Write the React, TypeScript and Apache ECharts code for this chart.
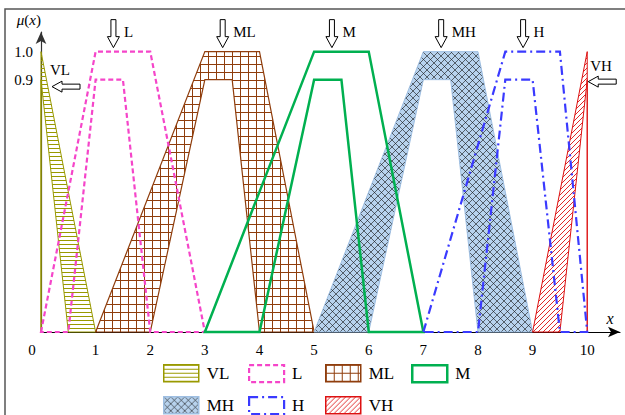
import React, { useEffect, useRef } from "react";
import * as echarts from "echarts";

// ---- data ----
const setNames = ["VL", "L", "ML", "M", "MH", "H", "VH"];
// upper membership function (trapezoid a,b,c,d, peak 1.0)
const umfA = [0, 0, 1, 3, 5, 7, 9];
const umfB = [0, 1, 3, 5, 7, 8.5, 10];
const umfC = [0, 2, 4, 6, 8, 9.5, 10];
const umfD = [1, 3, 5, 7, 9, 10, 10];
// lower membership function (trapezoid e,f,g,h, peak 0.9)
const lmfE = [0, 0.5, 2, 4, 6, 8, 9.5];
const lmfF = [0, 1, 3, 5, 7, 8.5, 10];
const lmfG = [0, 1.5, 3.5, 5.5, 7.5, 9, 10];
const lmfH = [0.5, 2, 4, 6, 8, 9.5, 10];
const umfPeak = 1.0;
const lmfPeak = 0.9;
const xTickValues = [0, 1, 2, 3, 4, 5, 6, 7, 8, 9, 10];
const yTickValues = [0.9, 1.0];

const FONT = "Liberation Serif";

function tile(w: number, h: number, bg: string | null, draw: (c: CanvasRenderingContext2D) => void) {
  const cv = document.createElement("canvas");
  cv.width = w;
  cv.height = h;
  const ctx = cv.getContext("2d")!;
  if (bg) {
    ctx.fillStyle = bg;
    ctx.fillRect(0, 0, w, h);
  }
  draw(ctx);
  return { image: cv.toDataURL(), repeat: "repeat", imageWidth: w, imageHeight: h };
}

export default function App() {
  const ref = useRef<HTMLDivElement>(null);
  useEffect(() => {
    if (!ref.current) return;
    const chart = echarts.init(ref.current, null, { renderer: "svg" });

    const hLines = tile(4, 4, null, (c) => {
      c.strokeStyle = "#999900";
      c.lineWidth = 1;
      c.beginPath();
      c.moveTo(0, 0.5);
      c.lineTo(4, 0.5);
      c.stroke();
    });
    const grid = tile(8, 8, null, (c) => {
      c.strokeStyle = "#8f3d0c";
      c.lineWidth = 1;
      c.beginPath();
      c.moveTo(0, 0.5);
      c.lineTo(8, 0.5);
      c.moveTo(0.5, 0);
      c.lineTo(0.5, 8);
      c.stroke();
    });
    const cross = tile(7, 7, "#b8d3ee", (c) => {
      c.strokeStyle = "#111";
      c.lineWidth = 0.6;
      c.beginPath();
      c.moveTo(0, 0);
      c.lineTo(7, 7);
      c.moveTo(7, 0);
      c.lineTo(0, 7);
      c.stroke();
    });
    const diag = tile(5, 5, null, (c) => {
      c.strokeStyle = "#dd1111";
      c.lineWidth = 0.9;
      c.beginPath();
      c.moveTo(-1, 6);
      c.lineTo(6, -1);
      c.moveTo(-1, 1);
      c.lineTo(1, -1);
      c.moveTo(4, 6);
      c.lineTo(6, 4);
      c.stroke();
    });

    const styles: Record<string, any> = {
      VL: { fill: hLines, stroke: "#999900", lineWidth: 1, lineDash: null, z: 2 },
      L: { fill: "none", stroke: "#f545c9", lineWidth: 2.2, lineDash: [5, 3], z: 3 },
      ML: { fill: grid, stroke: "#8f3d0c", lineWidth: 1.2, lineDash: null, z: 2 },
      M: { fill: "none", stroke: "#00b050", lineWidth: 2.5, lineDash: null, z: 3 },
      MH: { fill: cross, stroke: "#9fbfe2", lineWidth: 1, lineDash: null, z: 2 },
      H: { fill: "none", stroke: "#3a3aff", lineWidth: 2.2, lineDash: [9, 4, 2, 4], z: 3 },
      VH: { fill: diag, stroke: "#dd1111", lineWidth: 1, lineDash: null, z: 2 },
    };

    const arch = (i: number) => [
      [umfA[i], 0],
      [umfB[i], umfPeak],
      [umfC[i], umfPeak],
      [umfD[i], 0],
      [lmfH[i], 0],
      [lmfG[i], lmfPeak],
      [lmfF[i], lmfPeak],
      [lmfE[i], 0],
    ];

    const setSeries = setNames.map((name, i) => {
      const s = styles[name];
      return {
        type: "custom",
        name,
        coordinateSystem: "cartesian2d",
        silent: true,
        clip: false,
        z: s.z,
        itemStyle: {
          color: s.fill === "none" ? "rgba(0,0,0,0)" : s.fill,
          borderColor: s.stroke,
          borderWidth: s.lineWidth,
          borderType: s.lineDash || "solid",
        },
        data: [[(umfB[i] + umfC[i]) / 2, umfPeak]],
        renderItem: (_p: any, api: any) => {
          const pts = arch(i).map((p) => api.coord(p));
          return {
            type: "polygon",
            shape: { points: pts },
            style: {
              fill: s.fill,
              stroke: s.stroke,
              lineWidth: s.lineWidth,
              lineDash: s.lineDash || undefined,
            },
          };
        },
      };
    });

    // annotation arrows with labels
    const annotSeries = {
      type: "custom",
      coordinateSystem: "cartesian2d",
      silent: true,
      clip: false,
      z: 5,
      data: setNames.map((_, i) => [(umfB[i] + umfC[i]) / 2, umfPeak]),
      renderItem: (params: any, api: any) => {
        const i = params.dataIndex;
        const p = api.coord([api.value(0), api.value(1)]);
        const name = setNames[i];
        const leftShoulder = umfA[i] === umfB[i];
        const rightShoulder = umfC[i] === umfD[i];
        let pts: number[][];
        let tx: number, ty: number, lx: number, ly: number;
        if (leftShoulder || rightShoulder) {
          tx = p[0] + (leftShoulder ? 11 : 1);
          ty = p[1] + (leftShoulder ? 35 : 30);
          pts = [
            [tx, ty],
            [tx + 10, ty - 5.5],
            [tx + 10, ty - 2.5],
            [tx + 28, ty - 2.5],
            [tx + 28, ty + 2.5],
            [tx + 10, ty + 2.5],
            [tx + 10, ty + 5.5],
          ];
          lx = p[0] + (leftShoulder ? 9 : 3);
          ly = p[1] + (leftShoulder ? 18 : 14);
        } else {
          tx = p[0] - 9.5;
          ty = p[1] - 4;
          pts = [
            [tx - 2.5, ty - 28],
            [tx + 2.5, ty - 28],
            [tx + 2.5, ty - 11],
            [tx + 6, ty - 11],
            [tx, ty],
            [tx - 6, ty - 11],
            [tx - 2.5, ty - 11],
          ];
          lx = tx + 10.5;
          ly = ty - 16;
        }
        return {
          type: "group",
          children: [
            {
              type: "polygon",
              shape: { points: pts },
              style: { fill: "#fff", stroke: "#000", lineWidth: 1 },
            },
            {
              type: "text",
              x: lx,
              y: ly,
              style: {
                text: name,
                fill: "#000",
                font: `15px ${FONT}`,
                align: "left",
                verticalAlign: "middle",
              },
            },
          ],
        };
      },
    };

    const legendPos: Record<string, [number, number]> = {
      VL: [163, 364],
      L: [248, 364],
      ML: [325, 364],
      M: [411, 364],
      MH: [163, 396],
      H: [248, 396],
      VH: [325, 396],
    };

    const legends = setNames.map((name) => {
      const s = styles[name];
      return {
        left: legendPos[name][0],
        top: legendPos[name][1],
        padding: 0,
        itemWidth: 35,
        itemHeight: 17,
        selectedMode: false,
        textStyle: { fontFamily: FONT, fontSize: 17, color: "#000", padding: [0, 0, 0, 3] },
        data: [
          {
            name,
            icon: "rect",
            itemStyle: {
              color: s.fill === "none" ? "rgba(255,255,255,0)" : s.fill,
              borderColor: s.stroke,
              borderWidth: s.fill === "none" ? s.lineWidth : 1.5,
              borderType: s.lineDash || "solid",
            },
          },
        ],
      };
    });

    const near = (v: number, t: number) => Math.abs(v - t) < 1e-6;

    chart.setOption({
      animation: false,
      backgroundColor: "#fff",
      grid: { left: 41, right: 5, top: 32, bottom: 83, containLabel: false, outerBoundsMode: "none" },
      xAxis: {
        type: "value",
        min: 0,
        max: 10.6,
        interval: 1,
        name: "x",
        nameLocation: "end",
        nameGap: -10,
        nameTextStyle: {
          fontFamily: FONT,
          fontStyle: "italic",
          fontSize: 16,
          color: "#000",
          align: "center",
          verticalAlign: "bottom",
          padding: [0, 0, 6, 0],
        },
        axisLine: {
          show: true,
          symbol: ["none", "arrow"],
          symbolSize: [8, 12],
          lineStyle: { color: "#000", width: 1.2 },
        },
        axisTick: { show: false },
        splitLine: { show: false },
        axisLabel: {
          margin: 10,
          fontFamily: FONT,
          fontSize: 15,
          color: "#000",
          formatter: (v: number) => {
            const t = xTickValues.find((x) => near(x, v));
            if (t === undefined) return "";
            return t === 0 ? "{z|0}" : String(t);
          },
          rich: { z: { fontFamily: FONT, fontSize: 15, color: "#000", padding: [0, 18, 0, 0] } },
        },
      },
      yAxis: {
        type: "value",
        min: 0,
        max: 1.07,
        interval: 0.1,
        name: "{i|μ}({i|x})",
        nameLocation: "end",
        nameGap: 5,
        nameTextStyle: {
          fontFamily: FONT,
          fontSize: 15,
          color: "#000",
          align: "right",
          verticalAlign: "bottom",
          rich: { i: { fontFamily: FONT, fontSize: 15, fontStyle: "italic", color: "#000" } },
        },
        axisLine: {
          show: true,
          symbol: ["none", "arrow"],
          symbolSize: [8, 12],
          lineStyle: { color: "#333", width: 1.2 },
        },
        axisTick: { show: false },
        splitLine: { show: false },
        axisLabel: {
          margin: 8,
          fontFamily: FONT,
          fontSize: 15,
          color: "#000",
          formatter: (v: number) => {
            const t = yTickValues.find((y) => near(y, v));
            return t === undefined ? "" : t.toFixed(1);
          },
        },
      },
      legend: legends,
      graphic: [
        {
          type: "rect",
          silent: true,
          shape: { x: 5, y: 9, width: 700, height: 500 },
          style: { fill: "none", stroke: "#555", lineWidth: 1.5 },
        },
      ],
      series: [...setSeries, annotSeries],
    });
    return () => chart.dispose();
  }, []);
  return (
    <div
      ref={ref}
      style={{ position: "absolute", left: 0, top: 0, width: 625, height: 415, background: "#fff" }}
    />
  );
}
